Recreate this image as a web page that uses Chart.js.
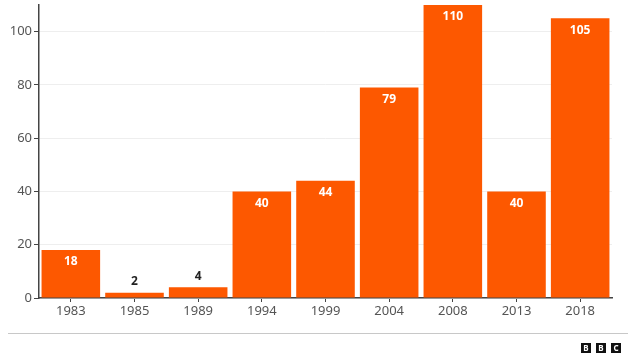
<!DOCTYPE html>
<html>
<head>
<meta charset="utf-8">
<script src="https://cdn.jsdelivr.net/npm/chart.js@4/dist/chart.umd.min.js"></script>
<style>
  html, body { margin: 0; padding: 0; background: #fff; }
  #wrap { position: relative; width: 640px; height: 360px; }
  #sep { position: absolute; left: 8px; top: 333px; width: 620px; height: 1px; background: #c8c8c8; }
  #logo { position: absolute; left: 581px; top: 343px; display: flex; gap: 5px; }
  #logo span {
    width: 10px; height: 10px; background: #111; color: #fff;
    font: bold 8px "Noto Sans", sans-serif; line-height: 10px; text-align: center;
  }
</style>
</head>
<body>
<div id="wrap">
  <canvas id="chart" width="640" height="360"></canvas>
  <div id="sep"></div>
  <div id="logo"><span>B</span><span>B</span><span>C</span></div>
</div>
<script>
const years = ["1983", "1985", "1989", "1994", "1999", "2004", "2008", "2013", "2018"];
const counts = [18, 2, 4, 40, 44, 79, 110, 40, 105];
const yTicks = [0, 20, 40, 60, 80, 100];

const barColor = "#fd5800";

// etiquetas de valor: dentro de la barra si cabe, encima si es muy baja
const valueLabels = {
    id: "valueLabels",
    afterDatasetsDraw(chart) {
        const ctx = chart.ctx;
        const meta = chart.getDatasetMeta(0);
        ctx.save();
        ctx.font = "bold 12px 'Noto Sans', sans-serif";
        ctx.textAlign = "center";
        ctx.textBaseline = "middle";
        meta.data.forEach((bar, i) => {
            const h = bar.base - bar.y;
            if (h > 24) {
                ctx.fillStyle = "#ffffff";
                ctx.fillText(counts[i], bar.x, bar.y + 12);
            } else {
                ctx.fillStyle = "#222222";
                ctx.fillText(counts[i], bar.x, bar.y - 11);
            }
        });
        ctx.restore();
    }
};

new Chart(document.getElementById("chart"), {
    type: "bar",
    data: {
        labels: years,
        datasets: [{
            data: counts,
            backgroundColor: barColor,
            barPercentage: 0.92,
            categoryPercentage: 1
        }]
    },
    options: {
        responsive: false,
        animation: false,
        layout: { padding: { left: 0, right: 28, top: 5, bottom: 0 } },
        plugins: {
            legend: { display: false },
            tooltip: { enabled: false }
        },
        scales: {
            x: {
                offset: true,
                grid: { display: true, offset: false, drawOnChartArea: false, tickLength: 4, tickColor: "#444" },
                border: { display: true, color: "#444", width: 1.5 },
                ticks: { color: "#555", font: { family: "'Noto Sans', sans-serif", size: 13 }, padding: 1 },
                afterFit: s => { s.height = 62; }
            },
            y: {
                min: 0,
                max: 110,
                afterBuildTicks: s => { s.ticks = yTicks.map(v => ({ value: v })); },
                grid: { color: "#eeeeee", tickLength: 5, tickColor: "#444" },
                border: { display: true, color: "#444", width: 1.5 },
                ticks: { color: "#555", font: { family: "'Noto Sans', sans-serif", size: 13 }, padding: 2 },
                afterFit: s => { s.width = 39; s.paddingTop = 0; s.paddingBottom = 0; }
            }
        }
    },
    plugins: [valueLabels]
});
</script>
</body>
</html>
